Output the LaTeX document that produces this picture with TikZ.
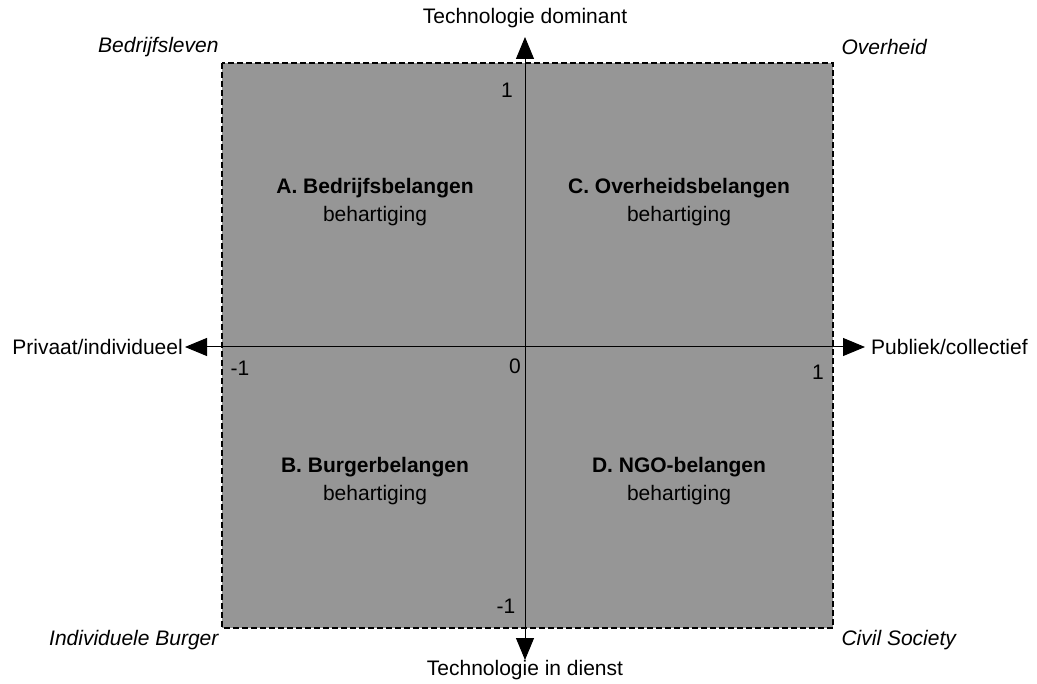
\documentclass[tikz,border=0pt]{standalone}
\usepackage{fontspec}
\setmainfont{Liberation Sans}
\usetikzlibrary{arrows.meta}
\definecolor{fieldgray}{RGB}{150,150,150}
\tikzset{
  axis/.style={line width=1pt,{Triangle[length=22pt,width=18pt]}-{Triangle[length=22pt,width=18pt]}},
  frame/.style={line width=2.5pt,dash pattern=on 6pt off 3pt},
  corner/.style={font=\fontsize{21}{24}\selectfont\itshape},
  quad/.style={align=center,font=\fontsize{21}{28}\selectfont}
}
\begin{document}
\begin{tikzpicture}[x=1pt,y=-1pt,font=\fontsize{21}{24}\selectfont]
  \useasboundingbox (0,0) rectangle (1037,684);
  % field
  \fill[fieldgray] (222,63) rectangle (833,628);
  \draw[frame] (222,63) rectangle (833,628);
  % axes
  \coordinate (xl) at (185,347);
  \coordinate (xr) at (865,347);
  \coordinate (yt) at (525,37);
  \coordinate (yb) at (525,660);
  \draw[axis] (xl) -- (xr);
  \draw[axis] (yb) -- (yt);
  \node[anchor=east,inner sep=2pt] (priv) at (xl) {Privaat/individueel};
  \node[anchor=west,inner sep=6pt] (publ) at (xr) {Publiek/collectief};
  \node (tdom) at (525,18) {Technologie dominant};
  \node (tdie) at (525,670) {Technologie in dienst};
  % corners
  \node[corner,anchor=east] (bedr) at (222,47) {Bedrijfsleven};
  \node[corner,anchor=west] (over) at (838,47) {Overheid};
  \node[corner,anchor=east] (burg) at (222,640) {Individuele Burger};
  \node[corner,anchor=west] (civ) at (838,640) {Civil Society};
  % ticks
  \node (ty1) at (507,90) {1};
  \node (tx0) at (240,368) {-1};
  \node (t0) at (515,366) {0};
  \node (tx1) at (818,372) {1};
  \node (ty0) at (506,606) {-1};
  % quadrants
  \node[quad] (qa) at (375,202) {\textbf{A. Bedrijfsbelangen}\\behartiging};
  \node[quad] (qc) at (679,202) {\textbf{C. Overheidsbelangen}\\behartiging};
  \node[quad] (qb) at (375,481) {\textbf{B. Burgerbelangen}\\behartiging};
  \node[quad] (qd) at (679,481) {\textbf{D. NGO-belangen}\\behartiging};
\end{tikzpicture}
\end{document}
